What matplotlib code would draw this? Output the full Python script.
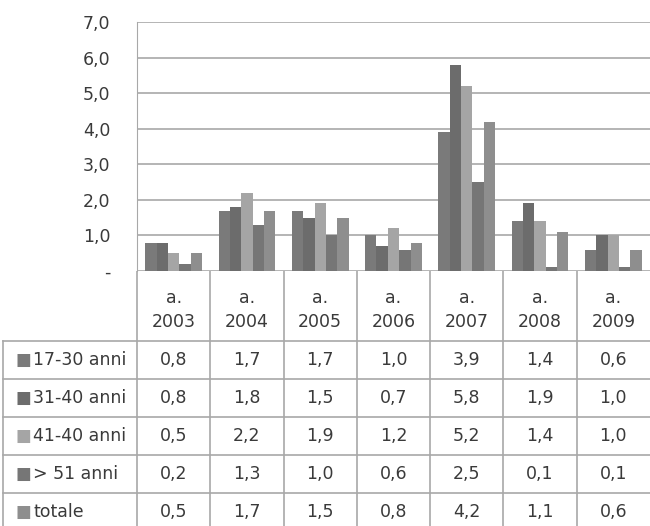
import matplotlib.pyplot as plt
import numpy as np

years = ["2003", "2004", "2005", "2006", "2007", "2008", "2009"]
series = ["17-30 anni", "31-40 anni", "41-40 anni", "> 51 anni", "totale"]
v_17_30 = [0.8, 1.7, 1.7, 1.0, 3.9, 1.4, 0.6]
v_31_40 = [0.8, 1.8, 1.5, 0.7, 5.8, 1.9, 1.0]
v_41_40 = [0.5, 2.2, 1.9, 1.2, 5.2, 1.4, 1.0]
v_51 = [0.2, 1.3, 1.0, 0.6, 2.5, 0.1, 0.1]
v_tot = [0.5, 1.7, 1.5, 0.8, 4.2, 1.1, 0.6]
values = [v_17_30, v_31_40, v_41_40, v_51, v_tot]
colors = ["#7a7a7a", "#6c6c6c", "#a5a5a5", "#767676", "#8e8e8e"]
yticks = [0, 1, 2, 3, 4, 5, 6, 7]

plt.rcParams["font.family"] = ["DejaVu Sans"]
fs = 12.5
txt = "#3a3a3a"
W, H = 650, 526
fig = plt.figure(figsize=(6.5, 5.26), dpi=100)

left, top, bottom = 137, 22, 271
ax = fig.add_axes([left / W, 1 - bottom / H, (W - left) / W, (bottom - top) / H])

x = np.arange(len(years))
bw = 0.155
for i, vals in enumerate(values):
    ax.bar(x + (i - 2) * bw, vals, bw, color=colors[i], zorder=3)

ax.set_xlim(-0.5, len(years) - 0.5)
ax.set_ylim(0, 7)
ax.set_yticks(yticks)
ax.set_yticklabels(["-" if t == 0 else f"{t},0" for t in yticks],
                   fontsize=fs, color=txt)
ax.tick_params(axis="y", length=0, pad=19)
ax.set_xticks([])
ax.grid(axis="y", color="#a8a8a8", linewidth=1.2, zorder=0)
for s in ["top", "right", "bottom"]:
    ax.spines[s].set_visible(False)
ax.spines["left"].set_color("#a8a8a8")

# data table under the bars
colw = (W - left) / len(years)
tab = fig.add_axes([0, 0, 1, 1 - bottom / H])
tab.set_xlim(-0.5 - left / colw, len(years) - 0.5)
tab.set_ylim(H - bottom, 0)
tab.axis("off")
lc = "#a8a8a8"
head_h = 70
row_h = 38
x0 = -0.5 - (left - 3) / colw
ybot = head_h + row_h * len(series) + 5
for k in range(len(years)):
    tab.plot([k - 0.5, k - 0.5], [0, ybot], color=lc, lw=1.2)
tab.plot([x0, x0], [head_h, ybot], color=lc, lw=1.2)
for r in range(len(series) + 1):
    yy = head_h + r * row_h
    tab.plot([x0, len(years) - 0.5], [yy, yy], color=lc, lw=1.2)

for j, yr in enumerate(years):
    tab.text(j, 39, "a.\n" + yr, ha="center", va="center",
             fontsize=fs, color=txt, linespacing=1.4)

for i, name in enumerate(series):
    yc = head_h + (i + 0.5) * row_h
    tab.text(x0 + 12 / colw, yc, "\u25a0", color=colors[i], fontsize=12,
             ha="left", va="center")
    tab.text(x0 + 30 / colw, yc, name, color=txt, fontsize=fs,
             ha="left", va="center")
    for j in range(len(years)):
        tab.text(j, yc, f"{values[i][j]:.1f}".replace(".", ","),
                 ha="center", va="center", fontsize=fs, color=txt)

fig.savefig("out.png", dpi=100, facecolor="white")
